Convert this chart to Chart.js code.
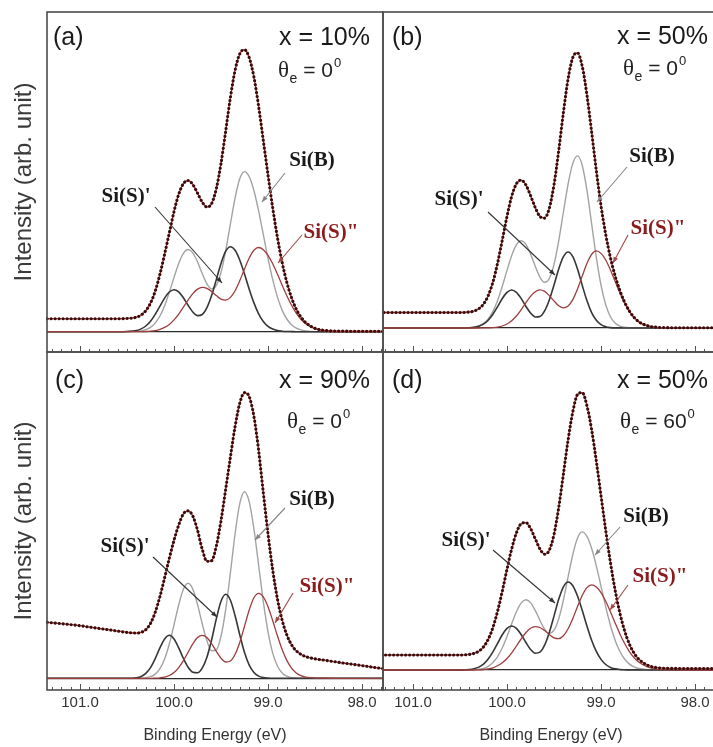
<!DOCTYPE html>
<html>
<head>
<meta charset="utf-8">
<title>Si 2p XPS spectra</title>
<script src="https://cdn.jsdelivr.net/npm/chart.js@4.4.1/dist/chart.umd.min.js"></script>
<style>
  html, body { margin:0; padding:0; background:#fff; }
  body { width:713px; height:747px; position:relative; overflow:hidden; }
  canvas { position:absolute; }
</style>
</head>
<body>
<canvas id="pa"></canvas>
<canvas id="pb"></canvas>
<canvas id="pc"></canvas>
<canvas id="pd"></canvas>
<script>
// ---------------- data (binding energy grid, eV) ----------------
const energy = [97.78, 97.9, 98.0, 98.1, 98.2, 98.3, 98.4, 98.5, 98.6, 98.65,
  98.7, 98.75, 98.8, 98.85, 98.9, 98.95, 99.0, 99.05, 99.1, 99.15,
  99.2, 99.25, 99.3, 99.35, 99.4, 99.45, 99.5, 99.55, 99.6, 99.65,
  99.7, 99.75, 99.8, 99.85, 99.9, 99.95, 100.0, 100.05, 100.1, 100.15,
  100.2, 100.25, 100.3, 100.35, 100.4, 100.5, 100.6, 100.7, 100.8, 100.9,
  101.0, 101.2, 101.35];

// panel (a) x = 10%, theta_e = 0
const aData = [0.5, 0.5, 0.5, 0.5, 0.6, 0.7, 1.3, 3.4, 9.2, 14.7,
  22.6, 34.0, 49.4, 69.3, 94.2, 123.6, 156.5, 191.1, 225.3, 254.6,
  274.0, 282.0, 278.0, 261.6, 234.2, 200.8, 168.3, 143.1, 128.1, 124.7,
  129.6, 138.6, 147.2, 151.2, 148.1, 137.4, 120.2, 98.8, 77.5, 57.5,
  40.5, 28.6, 21.0, 16.7, 14.5, 13.2, 13.0, 13.0, 12.9, 13.0,
  12.9, 13.0, 13.0];
const aSiB = [0, 0, 0, 0, 0, 0, 0, 0.1, 0.8, 1.8,
  3.6, 7.0, 12.7, 21.6, 34.6, 52.0, 73.3, 97.0, 120.8, 141.2,
  155.0, 160.1, 153.1, 133.9, 107.9, 81.1, 59.3, 46.3, 42.8, 47.9,
  58.2, 69.8, 78.9, 82.2, 78.3, 68.2, 54.3, 39.4, 26.0, 15.7,
  8.6, 4.3, 2.0, 0.8, 0.3, 0, 0, 0, 0, 0,
  0, 0, 0];
const aSiS1 = [0, 0, 0, 0, 0, 0, 0, 0, 0, 0,
  0, 0.1, 0.2, 0.5, 1.1, 2.6, 5.3, 10.2, 17.9, 28.8,
  42.5, 57.6, 71.5, 81.4, 85.0, 80.5, 68.3, 52.1, 36.1, 24.0,
  17.2, 16.1, 19.7, 26.4, 33.9, 39.8, 42.0, 39.7, 33.6, 25.5,
  17.3, 10.5, 5.7, 2.8, 1.2, 0.2, 0, 0, 0, 0,
  0, 0, 0];
const aSiS2 = [0, 0, 0, 0, 0, 0.2, 0.8, 2.8, 7.9, 12.4,
  18.5, 26.4, 35.9, 46.5, 57.6, 67.9, 76.4, 82.0, 84.2, 81.5,
  73.7, 62.8, 51.1, 41.0, 34.3, 31.6, 32.6, 36.1, 40.2, 43.4,
  44.4, 42.6, 38.1, 31.7, 24.5, 17.6, 11.8, 7.3, 4.3, 2.3,
  1.1, 0.5, 0.2, 0.1, 0, 0, 0, 0, 0, 0,
  0, 0, 0];

// panel (b) x = 50%, theta_e = 0
const bData = [0.3, 0.3, 0.3, 0.3, 0.3, 0.4, 0.7, 2.1, 6.4, 10.8,
  17.2, 26.0, 37.6, 52.2, 70.5, 93.5, 122.1, 157.4, 196.1, 233.2,
  261.8, 275.1, 270.5, 249.1, 215.5, 177.3, 143.2, 119.9, 109.9, 111.5,
  120.6, 132.6, 143.2, 147.9, 144.2, 131.7, 111.6, 88.0, 64.9, 45.9,
  32.3, 23.9, 19.3, 17.0, 16.0, 15.5, 15.5, 15.5, 15.5, 15.5,
  15.5, 15.5, 15.5];
const bSiB = [0, 0, 0, 0, 0, 0, 0, 0, 0, 0.1,
  0.2, 0.7, 1.9, 4.9, 11.3, 23.2, 42.8, 70.7, 104.4, 137.8,
  162.7, 172.1, 164.6, 144.0, 116.0, 87.2, 63.6, 49.5, 45.7, 50.9,
  61.8, 74.1, 83.8, 87.2, 83.1, 72.4, 57.6, 41.8, 27.6, 16.6,
  9.1, 4.6, 2.1, 0.9, 0.3, 0, 0, 0, 0, 0,
  0, 0, 0];
const bSiS1 = [0, 0, 0, 0, 0, 0, 0, 0, 0, 0,
  0, 0, 0, 0.1, 0.4, 1.3, 3.3, 7.7, 15.4, 27.4,
  42.8, 58.9, 71.3, 76.0, 71.3, 59.0, 43.0, 28.0, 17.1, 11.5,
  11.0, 15.0, 21.8, 29.6, 35.6, 38.0, 35.6, 29.5, 21.4, 13.7,
  7.7, 3.8, 1.7, 0.6, 0.2, 0, 0, 0, 0, 0,
  0, 0, 0];
const bSiS2 = [0, 0, 0, 0, 0, 0.1, 0.4, 1.8, 6.1, 10.4,
  16.7, 25.0, 35.3, 46.7, 58.1, 68.0, 74.6, 77.1, 73.7, 64.5,
  51.9, 39.0, 28.4, 22.0, 20.1, 22.3, 27.1, 32.4, 36.6, 38.1,
  36.3, 31.6, 25.2, 18.2, 12.0, 7.3, 4.0, 2.0, 0.9, 0.4,
  0.2, 0.1, 0, 0, 0, 0, 0, 0, 0, 0,
  0, 0, 0];

// panel (c) x = 90%, theta_e = 0
const cData = [9.7, 11.3, 12.7, 14.0, 15.3, 16.7, 18.1, 19.5, 21.7, 23.9,
  27.5, 33.5, 43.3, 58.1, 79.4, 108.1, 144.2, 185.4, 227.8, 261.9,
  281.6, 285.7, 275.3, 251.9, 221.2, 189.2, 157.8, 132.1, 117.6, 117.0,
  129.1, 148.1, 162.3, 167.4, 164.5, 153.3, 138.0, 120.0, 100.5, 81.7,
  66.0, 54.9, 48.6, 46.0, 45.2, 45.9, 47.2, 48.6, 49.9, 51.2,
  52.6, 54.6, 56.0];
const cSiB = [0, 0, 0, 0, 0, 0, 0, 0, 0, 0,
  0.2, 0.7, 2.1, 5.3, 12.3, 25.2, 46.5, 76.7, 113.3, 149.5,
  176.5, 186.6, 175.0, 144.8, 105.6, 69.0, 42.1, 28.4, 27.5, 37.5,
  54.6, 73.9, 89.2, 95.0, 89.1, 73.6, 53.5, 34.3, 19.3, 9.6,
  4.2, 1.6, 0.5, 0.2, 0, 0, 0, 0, 0, 0,
  0, 0, 0];
const cSiS1 = [0, 0, 0, 0, 0, 0, 0, 0, 0, 0,
  0, 0, 0, 0, 0, 0, 0.2, 0.7, 2.2, 5.9,
  13.2, 25.7, 43.2, 62.5, 78.0, 84.0, 77.0, 59.4, 38.5, 21.1,
  10.2, 5.6, 6.1, 11.0, 19.8, 30.4, 39.4, 43.0, 39.4, 30.4,
  19.7, 10.7, 4.9, 1.9, 0.6, 0, 0, 0, 0, 0,
  0, 0, 0];
const cSiS2 = [0, 0, 0, 0, 0, 0, 0.1, 0.2, 1.1, 2.6,
  5.3, 10.2, 17.9, 28.8, 42.5, 57.6, 71.5, 81.4, 85.0, 80.5,
  68.3, 52.1, 36.1, 24.0, 17.3, 16.3, 20.1, 27.0, 34.7, 40.8,
  43.0, 40.7, 34.4, 26.1, 17.7, 10.7, 5.8, 2.8, 1.2, 0.5,
  0.2, 0, 0, 0, 0, 0, 0, 0, 0, 0,
  0, 0, 0];

// panel (d) x = 50%, theta_e = 60
const dData = [1.5, 1.5, 1.5, 1.5, 1.6, 1.7, 2.3, 4.6, 11.0, 17.1,
  26.3, 39.5, 57.2, 79.9, 107.5, 139.6, 174.2, 208.8, 240.4, 264.4,
  277.4, 275.5, 258.2, 230.1, 195.9, 162.3, 135.6, 119.8, 115.8, 121.1,
  131.3, 141.6, 147.4, 146.2, 137.1, 121.2, 100.8, 78.9, 58.9, 42.4,
  30.7, 23.1, 18.8, 16.6, 15.6, 15.0, 15.0, 15.0, 15.0, 15.0,
  15.0, 15.0, 15.0];
const dSiB = [0, 0, 0, 0, 0, 0, 0, 0.3, 1.5, 3.1,
  6.1, 11.0, 18.7, 29.8, 44.8, 63.2, 83.7, 104.2, 121.8, 133.7,
  138.1, 132.1, 115.5, 93.1, 69.9, 51.1, 39.8, 36.7, 40.9, 49.7,
  59.6, 67.4, 70.2, 66.9, 58.2, 46.3, 33.6, 22.2, 13.4, 7.4,
  3.7, 1.7, 0.7, 0.3, 0.1, 0, 0, 0, 0, 0,
  0, 0, 0];
const dSiS1 = [0, 0, 0, 0, 0, 0, 0, 0, 0, 0,
  0, 0.2, 0.5, 1.2, 2.6, 5.5, 10.6, 18.6, 29.8, 44.0,
  59.7, 74.0, 84.3, 88.0, 83.2, 70.7, 53.9, 37.5, 24.8, 17.8,
  16.8, 20.6, 27.7, 35.5, 41.7, 44.0, 41.6, 35.2, 26.7, 18.1,
  11.0, 5.9, 2.9, 1.3, 0.5, 0.1, 0, 0, 0, 0,
  0, 0, 0];
const dSiS2 = [0, 0, 0, 0, 0.1, 0.2, 0.8, 2.8, 8.0, 12.5,
  18.7, 26.7, 36.3, 47.1, 58.2, 68.7, 77.4, 83.0, 85.2, 82.4,
  74.5, 63.4, 51.5, 41.3, 34.3, 31.4, 32.2, 35.4, 39.4, 42.5,
  43.4, 41.7, 37.2, 31.0, 24.0, 17.2, 11.5, 7.2, 4.2, 2.2,
  1.1, 0.5, 0.2, 0, 0, 0, 0, 0, 0, 0,
  0, 0, 0];

// labels
const majorTicks = [101, 100, 99, 98];
const panelTags = ['(a)', '(b)', '(c)', '(d)'];
const compositions = ['x = 10%', 'x = 50%', 'x = 90%', 'x = 50%'];
const emissionAngles = ['0', '0', '0', '60'];
const componentNames = ['Si(B)', "Si(S)'", 'Si(S)"'];
const xTitle = 'Binding Energy (eV)';
const yTitle = 'Intensity (arb. unit)';

// ---------------- layout / style ----------------
const SANS = '"Liberation Sans", Arial, Helvetica, sans-serif';
const SERIF = '"Liberation Serif", "Times New Roman", Times, serif';
Chart.defaults.font.family = SANS;

const panels = [
  { id: 'pa', series: [aData, aSiB, aSiS1, aSiS2],
    box: { left: 0, top: 0, w: 433, h: 362 }, pad: { left: 0, top: 12, right: 50, bottom: 10 },
    xr: [97.777, 101.351], yr: [-20.3, 319.7], yAxisTitle: true, xAxis: false,
    tagPos: [6, 26], compPos: [323, 26], thetaPos: [231, 65],
    labPos: [[265, 149], [79, 185], [284, 221]],
    arrows: [[238, 161, 215, 190], [108, 195, 175, 271], [255, 223, 231, 251]] },
  { id: 'pb', series: [bData, bSiB, bSiS1, bSiS2],
    box: { left: 333, top: 0, w: 400, h: 362 }, pad: { left: 50, top: 12, right: 14, bottom: 10 },
    xr: [97.745, 101.319], yr: [-24, 316], yAxisTitle: false, xAxis: false,
    tagPos: [9, 26], compPos: [325, 25], thetaPos: [240, 63],
    labPos: [[269, 145], [76, 188], [275, 217]],
    arrows: [[244, 155, 214, 190], [105, 200, 172, 263], [245, 223, 230, 251]] },
  { id: 'pc', series: [cData, cSiB, cSiS1, cSiS2],
    box: { left: 0, top: 342, w: 433, h: 405 }, pad: { left: 0, top: 10, right: 50, bottom: 0 },
    xr: [97.777, 101.351], yr: [-11.7, 326.3], yAxisTitle: true, xAxis: true,
    tagPos: [8, 29], compPos: [323, 29], thetaPos: [240, 76],
    labPos: [[265, 148], [78, 195], [280, 235]],
    arrows: [[238, 156, 208, 188], [106, 205, 170, 265], [246, 241, 228, 271]] },
  { id: 'pd', series: [dData, dSiB, dSiS1, dSiS2],
    box: { left: 333, top: 342, w: 400, h: 405 }, pad: { left: 50, top: 10, right: 14, bottom: 0 },
    xr: [97.745, 101.319], yr: [-20, 318], yAxisTitle: false, xAxis: true,
    tagPos: [9, 29], compPos: [325, 29], thetaPos: [237, 76],
    labPos: [[263, 165], [83, 189], [277, 225]],
    arrows: [[237, 175, 212, 203], [110, 198, 172, 251], [245, 233, 227, 258]] }
];

const compColors = { B: '#a3a3a3', S1: '#363636', S2: '#9e3d3d' };
const labelColors = ['#1a1a1a', '#1a1a1a', '#8b1c1c'];
const arrowColors = ['#858585', '#333333', '#a04848'];

function pts(vals) { return energy.map((e, i) => ({ x: e, y: vals[i] })); }

function drawArrow(ctx, x1, y1, x2, y2, color) {
  ctx.strokeStyle = color; ctx.fillStyle = color; ctx.lineWidth = 1.1;
  ctx.beginPath(); ctx.moveTo(x1, y1); ctx.lineTo(x2, y2); ctx.stroke();
  const ang = Math.atan2(y2 - y1, x2 - x1), len = 6, hw = 2.4;
  ctx.beginPath();
  ctx.moveTo(x2, y2);
  ctx.lineTo(x2 - len * Math.cos(ang) + hw * Math.sin(ang), y2 - len * Math.sin(ang) - hw * Math.cos(ang));
  ctx.lineTo(x2 - len * Math.cos(ang) - hw * Math.sin(ang), y2 - len * Math.sin(ang) + hw * Math.cos(ang));
  ctx.closePath(); ctx.fill();
}

function makeDeco(p, k) {
  return {
    id: 'deco' + k,
    afterDraw(chart) {
      const ctx = chart.ctx, ca = chart.chartArea, xs = chart.scales.x;
      const L = ca.left, T = ca.top;
      ctx.save();
      // inward ticks on the bottom axis (0.1 eV minor, 1 eV major)
      ctx.strokeStyle = '#555'; ctx.lineWidth = 1; ctx.beginPath();
      const i0 = Math.ceil(xs.min * 10 - 1e-6), i1 = Math.floor(xs.max * 10 + 1e-6);
      for (let i = i0; i <= i1; i++) {
        const px = Math.round(xs.getPixelForValue(i / 10)) + 0.5;
        const len = (i % 10 === 0) ? 6 : 3;
        ctx.moveTo(px, ca.bottom); ctx.lineTo(px, ca.bottom - len);
      }
      ctx.stroke();
      // frame
      ctx.strokeStyle = '#4d4d4d'; ctx.lineWidth = 1.6;
      ctx.strokeRect(L, T, ca.right - L, ca.bottom - T);
      // panel tag and composition
      ctx.fillStyle = '#1a1a1a';
      ctx.font = '25px ' + SANS; ctx.textBaseline = 'middle'; ctx.textAlign = 'left';
      ctx.fillText(panelTags[k], L + p.tagPos[0], T + p.tagPos[1]);
      ctx.textAlign = 'right';
      ctx.fillText(compositions[k], L + p.compPos[0], T + p.compPos[1]);
      // theta_e = angle^0
      let x = L + p.thetaPos[0]; const y = T + p.thetaPos[1];
      ctx.textAlign = 'left'; ctx.textBaseline = 'alphabetic'; ctx.fillStyle = '#222';
      ctx.font = '23px ' + SERIF; ctx.fillText('θ', x, y); x += ctx.measureText('θ').width + 0.5;
      ctx.font = '14px ' + SANS; ctx.fillText('e', x, y + 6); x += ctx.measureText('e').width;
      ctx.font = '21px ' + SANS; const s = ' = ' + emissionAngles[k]; ctx.fillText(s, x, y); x += ctx.measureText(s).width + 1;
      ctx.font = '13px ' + SANS; ctx.fillText('0', x, y - 10);
      // pointer lines
      p.arrows.forEach((a, j) => drawArrow(ctx, L + a[0], T + a[1], L + a[2], T + a[3], arrowColors[j]));
      // component labels
      ctx.font = 'bold 21px ' + SERIF; ctx.textAlign = 'center'; ctx.textBaseline = 'middle';
      p.labPos.forEach((lp, j) => {
        ctx.fillStyle = labelColors[j];
        ctx.fillText(componentNames[j], L + lp[0], T + lp[1]);
      });
      ctx.restore();
    }
  };
}

panels.forEach((p, k) => {
  const cv = document.getElementById(p.id);
  cv.width = p.box.w; cv.height = p.box.h;
  cv.style.left = p.box.left + 'px'; cv.style.top = p.box.top + 'px';
  cv.style.width = p.box.w + 'px'; cv.style.height = p.box.h + 'px';
  const [dat, sb, s1, s2] = p.series;
  const common = { pointRadius: 0, cubicInterpolationMode: 'monotone', fill: false, clip: 1 };
  new Chart(cv, {
    type: 'line',
    data: {
      datasets: [
        Object.assign({ label: 'data', data: pts(dat), borderColor: '#3a0b0b', borderWidth: 3.1,
          borderDash: [0.1, 3.9], borderCapStyle: 'round', borderJoinStyle: 'round' }, common),
        Object.assign({ label: 'fit', data: pts(dat), borderColor: '#b8413f', borderWidth: 1.3 }, common),
        Object.assign({ label: componentNames[2], data: pts(s2), borderColor: compColors.S2, borderWidth: 1.3 }, common),
        Object.assign({ label: componentNames[1], data: pts(s1), borderColor: compColors.S1, borderWidth: 1.6 }, common),
        Object.assign({ label: componentNames[0], data: pts(sb), borderColor: compColors.B, borderWidth: 1.4 }, common)
      ]
    },
    options: {
      responsive: false, animation: false, devicePixelRatio: 1, events: [],
      layout: { padding: p.pad },
      plugins: { legend: { display: false }, tooltip: { enabled: false } },
      scales: {
        x: {
          type: 'linear', reverse: true, min: p.xr[0], max: p.xr[1],
          display: p.xAxis,
          afterBuildTicks: s => { s.ticks = majorTicks.map(v => ({ value: v })); },
          afterFit: s => { s.height = p.xAxis ? 57 : 0; },
          grid: { display: false, drawTicks: false },
          border: { display: false },
          ticks: { padding: 4, color: '#333', autoSkip: false, maxRotation: 0,
            font: { size: 15, family: SANS }, callback: v => Number(v).toFixed(1) },
          title: { display: true, text: xTitle, color: '#333',
            font: { size: 16, family: SANS }, padding: { top: 0, bottom: 2 } }
        },
        y: {
          type: 'linear', min: p.yr[0], max: p.yr[1], display: true,
          afterBuildTicks: s => { s.ticks = [{ value: 0 }]; },
          afterFit: s => { s.width = p.yAxisTitle ? 47 : 0; },
          ticks: { display: false },
          grid: { display: true, drawTicks: false, color: '#2a2a2a', lineWidth: 1.2 },
          border: { display: false },
          title: { display: p.yAxisTitle, text: yTitle, color: '#3a3a3a',
            font: { size: 24, family: SANS }, padding: { top: 10, bottom: 0 } }
        }
      }
    },
    plugins: [makeDeco(p, k)]
  });
});
</script>
</body>
</html>
